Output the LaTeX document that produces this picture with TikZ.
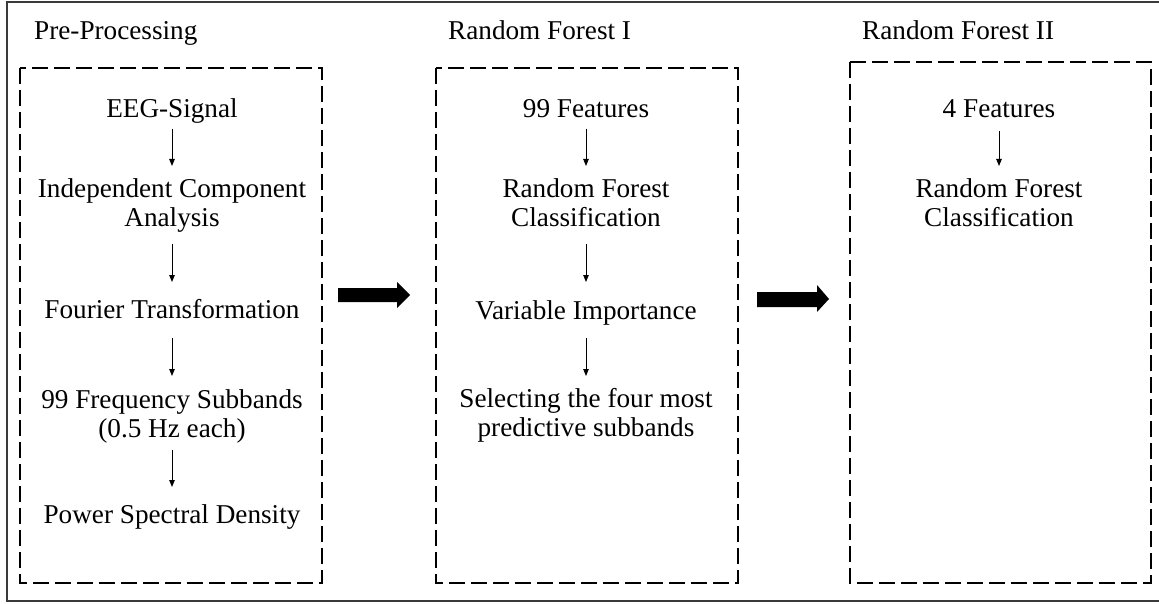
\documentclass[tikz,border=0pt]{standalone}
\usepackage{fontspec}
\setmainfont{Liberation Serif}
\usetikzlibrary{arrows.meta}
\definecolor{framecol}{HTML}{3A3A3A}
\tikzset{
  txt/.style={inner sep=0pt, anchor=north, align=center, font=\fontsize{27.2}{29}\selectfont},
  head/.style={inner sep=0pt, anchor=base west, font=\fontsize{27.2}{29}\selectfont},
  dbox/.style={draw=black, line width=2.6pt, dash pattern=on 16pt off 6pt},
  arr/.style={draw=black, line width=0.9pt, -{Triangle[length=7pt,width=5.5pt]}},
  bigarr/.style={fill=black, draw=none},
  frame/.style={draw=framecol, line width=2pt}
}
\begin{document}
\begin{tikzpicture}[x=1pt,y=-1pt]
\useasboundingbox (0,0) rectangle (1159,604);
% outer frame (right edge outside the picture)
\draw[frame] (1160,2) -- (7,2) -- (7,601) -- (1160,601);
% dashed boxes
\draw[dbox] (20,68) rectangle (322,583);
\draw[dbox] (436,68) rectangle (738,583);
\draw[dbox] (850,62) rectangle (1151,583);
% headers
\node[head] (h1) at (34,40) {Pre-Processing};
\node[head] (h2) at (448,40) {Random Forest I};
\node[head] (h3) at (862,40) {Random Forest II};
% box 1
\node[txt] (eeg) at (172,98.5) {EEG-Signal};
\node[txt] (ica) at (172,178.5) {Independent Component\\Analysis};
\node[txt] (ft)  at (172,299.5) {Fourier Transformation};
\node[txt] (fs)  at (172,389.5) {99 Frequency Subbands\\(0.5 Hz each)};
\node[txt] (psd) at (172,504.5) {Power Spectral Density};
\draw[arr, shorten <=5pt, shorten >=12.5pt] (eeg) -- (ica);
\draw[arr, shorten <=11pt, shorten >=17.5pt] (ica) -- (ft);
\draw[arr, shorten <=19pt, shorten >=13.5pt] (ft) -- (fs);
\draw[arr, shorten <=6pt, shorten >=17.5pt] (fs) -- (psd);
% box 2
\node[txt] (f99) at (586,99) {99 Features};
\node[txt] (rf1) at (586,178.5) {Random Forest\\Classification};
\node[txt] (vi)  at (586,300.5) {Variable Importance};
\node[txt] (sel) at (586,388.5) {Selecting the four most\\predictive subbands};
\draw[arr, shorten <=11pt, shorten >=12.5pt] (f99) -- (rf1);
\draw[arr, shorten <=17pt, shorten >=18.5pt] (rf1) -- (vi);
\draw[arr, shorten <=12pt, shorten >=12.5pt] (vi) -- (sel);
% box 3
\node[txt] (f4)  at (999,99) {4 Features};
\node[txt] (rf2) at (999,178.5) {Random Forest\\Classification};
\draw[arr, shorten <=13pt, shorten >=12.5pt] (f4) -- (rf2);
% big arrows
\fill[bigarr] (338,288) -- (397,288) -- (397,282) -- (410,295) -- (397,308) -- (397,302) -- (338,302) -- cycle;
\fill[bigarr] (757,292) -- (817,292) -- (817,285) -- (829,299) -- (817,312) -- (817,307) -- (757,307) -- cycle;
\end{tikzpicture}
\end{document}
